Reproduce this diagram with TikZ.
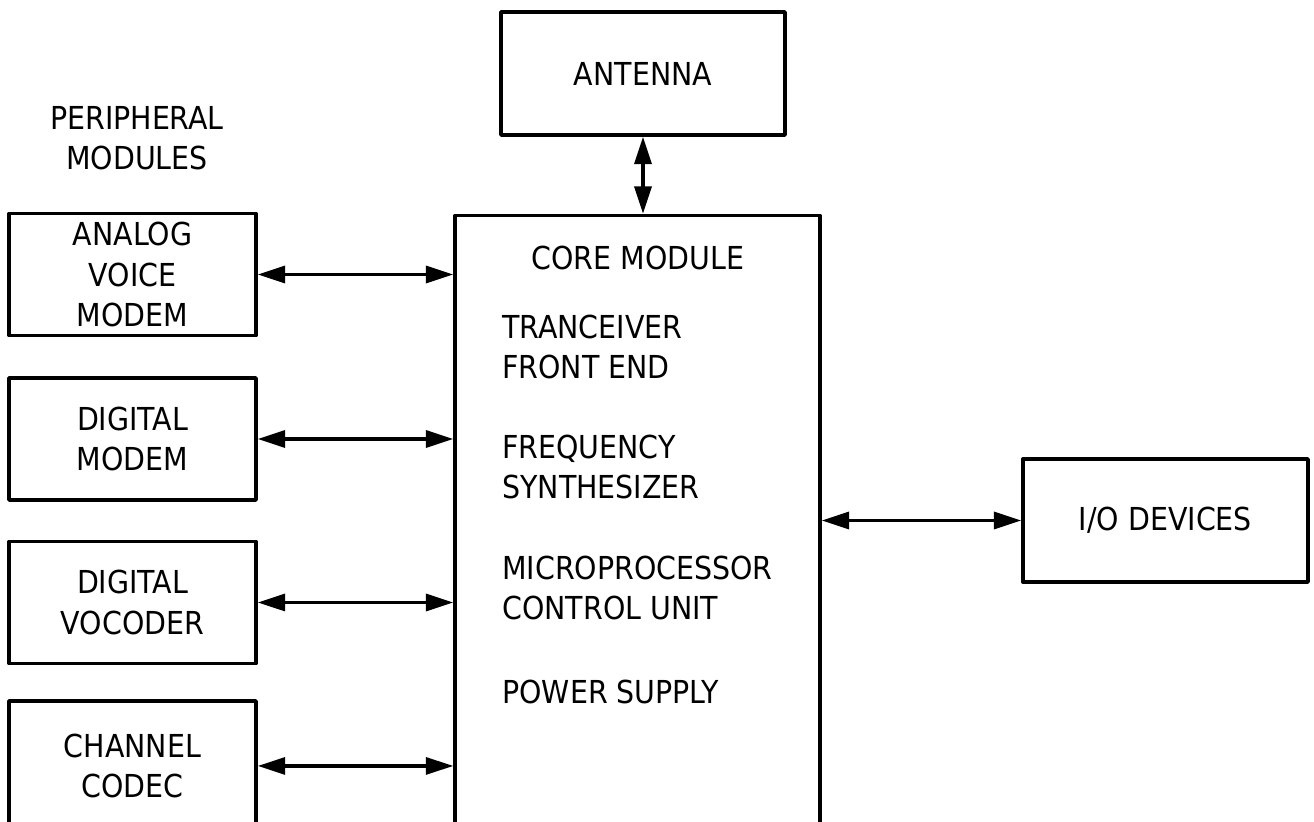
\documentclass[tikz,border=0pt]{standalone}
\usepackage{fontspec}
\setmainfont{DejaVu Sans Condensed}
\usetikzlibrary{arrows.meta,positioning}
\newcommand\blockfont{\fontsize{18}{23}\selectfont}
\begin{document}
\begin{tikzpicture}[x=0.02cm,y=-0.02cm,line join=round,
    box/.style={draw,line width=2pt,inner sep=0pt,align=center,font=\blockfont},
    pbox/.style={box,minimum width=4.94cm,minimum height=2.44cm},
    lbl/.style={font=\blockfont,align=left,inner sep=0pt},
    link/.style={line width=2pt,{Triangle[length=5.5mm,width=3.4mm]}-{Triangle[length=5.5mm,width=3.4mm]}}]
    \path[use as bounding box,clip] (0,0) rectangle (1314,821);
    % core and antenna
    \node[box,minimum width=5.68cm,minimum height=2.46cm] (ant) at (643,73.5) {ANTENNA};
    \node[box,minimum width=7.3cm,minimum height=13.7cm] (core) at (637.5,558) {};
    \node[lbl] (coret) at (638,258) {CORE MODULE};
    \node[lbl,anchor=west] (trx) at (502,347) {TRANCEIVER\\FRONT END};
    \node[lbl,anchor=west] (syn) at (502,467) {FREQUENCY\\SYNTHESIZER};
    \node[lbl,anchor=west] (mcu) at (502,588) {MICROPROCESSOR\\CONTROL UNIT};
    \node[lbl,anchor=west] (psu) at (502,692) {POWER SUPPLY};
    % peripheral modules
    \node[lbl,align=center] (perl) at (137,138) {PERIPHERAL\\MODULES};
    \node[pbox] (avm) at (132.5,274.5) {ANALOG\\VOICE\\MODEM};
    \node[pbox,below=0.78cm of avm] (dm) {DIGITAL\\MODEM};
    \node[pbox,below=0.76cm of dm] (dv) {DIGITAL\\VOCODER};
    \node[pbox,minimum height=2.6cm,below=0.68cm of dv] (cc) {CHANNEL\\CODEC};
    \node[box,minimum width=5.7cm,minimum height=2.46cm] (io) at (1165.5,520.5) {I/O DEVICES};
    % links
    \foreach \m in {avm,dm,dv,cc}
        \draw[link] (\m.east) -- (\m.east -| core.west);
    \draw[link] (core.east |- io.west) -- (io.west);
    \draw[link] (ant.south) -- (ant.south |- core.north);
\end{tikzpicture}
\end{document}
